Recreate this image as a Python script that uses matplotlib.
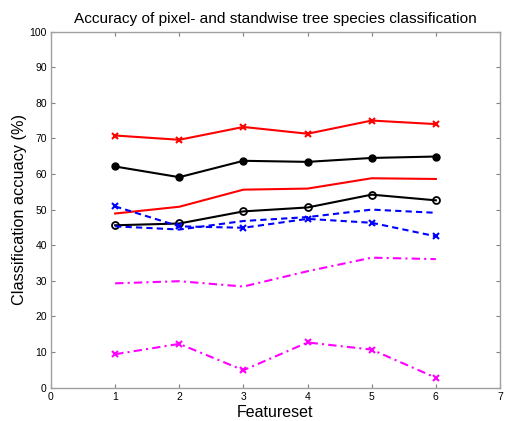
import matplotlib
matplotlib.use("Agg")
import matplotlib.pyplot as plt

plt.rcParams['font.family'] = ['Liberation Sans', 'DejaVu Sans']

featuresets = [1, 2, 3, 4, 5, 6]
red_x = [70.8, 69.6, 73.2, 71.3, 75.0, 74.0]
black_filled = [62.1, 59.1, 63.7, 63.4, 64.5, 64.9]
red_plain = [48.9, 50.8, 55.6, 55.9, 58.8, 58.6]
black_open = [45.6, 46.1, 49.5, 50.6, 54.2, 52.6]
blue_x = [50.9, 45.3, 44.9, 47.4, 46.3, 42.5]
blue_plain = [45.3, 44.4, 46.8, 47.9, 50.0, 49.1]
magenta_plain = [29.3, 29.9, 28.4, 32.7, 36.5, 36.1]
magenta_x = [9.4, 12.3, 4.9, 12.7, 10.7, 2.8]

xticks = [0, 1, 2, 3, 4, 5, 6, 7]
yticks = [0, 10, 20, 30, 40, 50, 60, 70, 80, 90, 100]

fig = plt.figure(figsize=(5.05, 4.21), dpi=100)
ax = fig.add_axes([51/505, 1 - 387.7/421, (500-51)/505, (387.7-31.5)/421])

lw = 1.5
ax.plot(featuresets, red_x, '-', color='red', lw=lw, marker='x', ms=4, mew=1.5)
ax.plot(featuresets, black_filled, '-', color='black', lw=lw, marker='o', ms=5, mfc='black')
ax.plot(featuresets, red_plain, '-', color='red', lw=lw)
ax.plot(featuresets, black_open, '-', color='black', lw=lw, marker='o', ms=5, mfc='none', mew=1.3)
ax.plot(featuresets, blue_x, '--', color='blue', lw=lw, marker='x', ms=4, mew=1.5, dashes=(3, 2))
ax.plot(featuresets, blue_plain, '--', color='blue', lw=lw, dashes=(3, 2))
ax.plot(featuresets, magenta_plain, '-.', color='magenta', lw=lw, dashes=(4, 2, 1, 2))
ax.plot(featuresets, magenta_x, '-.', color='magenta', lw=lw, marker='x', ms=4, mew=1.5, dashes=(4, 2, 1, 2))

ax.set_xlim(0, 7)
ax.set_ylim(0, 100)
ax.set_xticks(xticks)
ax.set_yticks(yticks)
for s in ax.spines.values():
    s.set_color('#a0a0a0')
    s.set_linewidth(1.0)
ax.tick_params(direction='in', length=3, width=0.8, color='#808080',
               labelsize=7.5, top=True, right=True, pad=3)

ax.set_title('Accuracy of pixel- and standwise tree species classification', fontsize=11.1, pad=6)
ax.set_xlabel('Featureset', fontsize=11.5, labelpad=2)
ax.set_ylabel('Classification accuacy (%)', fontsize=11.7, labelpad=2)

fig.savefig('out.png', dpi=100)
